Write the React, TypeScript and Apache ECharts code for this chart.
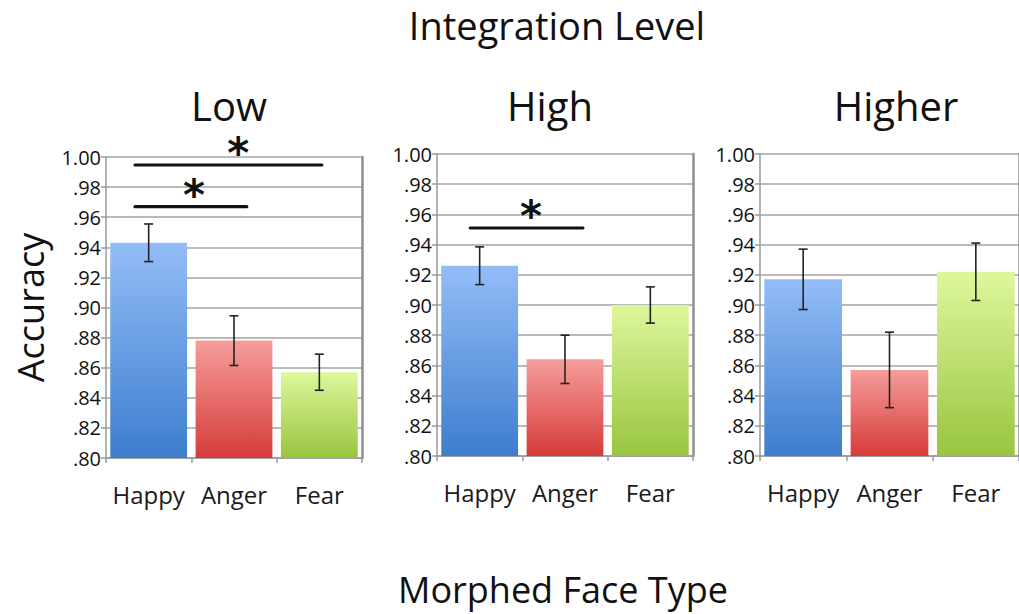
import React, { useEffect, useRef } from "react";
import * as echarts from "echarts";

// ---- Data ----
const categories = ["Happy", "Anger", "Fear"];
const panelTitles = ["Low", "High", "Higher"];
const yTicksMin = 0.8;
const yTicksMax = 1.0;
const yTickStep = 0.02;

const lowMeans = [0.943, 0.878, 0.857];
const lowErrors = [0.0125, 0.0165, 0.012];
const highMeans = [0.926, 0.864, 0.9];
const highErrors = [0.0125, 0.016, 0.012];
const higherMeans = [0.917, 0.857, 0.922];
const higherErrors = [0.02, 0.025, 0.019];

// significance bars: [start (category units), end, y value, star position]
const lowSig = [
  [-0.16, 2.03, 0.9947, 1.05],
  [-0.16, 1.15, 0.967, 0.53],
];
const highSig = [[-0.11, 1.21, 0.951, 0.6]];
const higherSig: number[][] = [];

const mainTitle = "Integration Level";
const xTitle = "Morphed Face Type";
const yTitle = "Accuracy";

// ---- Styles ----
const FONT = "'Open Sans', sans-serif";
const barGradients = [
  ["#93bdf7", "#3d7dce"],
  ["#f59d9b", "#d53c3a"],
  ["#def79c", "#98c53f"],
];
const gridBoxes = [
  { left: 106, top: 157, width: 256, height: 301 },
  { left: 437, top: 154, width: 256, height: 302 },
  { left: 760, top: 154, width: 259, height: 302 },
];
const titleX = [224, 545, 891];

function grad(i: number) {
  return new echarts.graphic.LinearGradient(0, 0, 0, 1, [
    { offset: 0, color: barGradients[i][0] },
    { offset: 1, color: barGradients[i][1] },
  ]);
}

export default function App() {
  const ref = useRef<HTMLDivElement>(null);
  useEffect(() => {
    if (!ref.current) return;
    const chart = echarts.init(ref.current, undefined, { renderer: "svg" });
    const panels = [
      { means: lowMeans, errs: lowErrors, sig: lowSig },
      { means: highMeans, errs: highErrors, sig: highSig },
      { means: higherMeans, errs: higherErrors, sig: higherSig },
    ];
    const grids = gridBoxes.map((g) => ({ ...g, containLabel: false }));
    const xAxes = panels.map((_, i) => ({
      type: "category",
      gridIndex: i,
      data: categories,
      axisLine: { show: true, lineStyle: { color: "#9a9a9a", width: 1.5 } },
      axisTick: { show: true, length: 5, lineStyle: { color: "#9a9a9a", width: 1.5 } },
      axisLabel: {
        interval: 0,
        hideOverlap: false,
        fontFamily: FONT,
        fontSize: 24,
        color: "#1a1a1a",
        margin: 24,
      },
      splitLine: { show: false },
    }));
    const yAxes: any[] = [];
    panels.forEach((_, i) => {
      yAxes.push({
        type: "value",
        gridIndex: i,
        min: yTicksMin,
        max: yTicksMax,
        interval: yTickStep,
        axisLine: { show: true, lineStyle: { color: "#9a9a9a", width: 1.5 } },
        axisTick: { show: true, length: 5, lineStyle: { color: "#9a9a9a", width: 1.5 } },
        axisLabel: {
          fontFamily: FONT,
          fontSize: 20,
          color: "#111",
          margin: 5,
          formatter: (v: number) => {
            const s = v.toFixed(2);
            return v >= 1 ? s : s.slice(1);
          },
        },
        splitLine: { show: true, lineStyle: { color: "#a3a3a3", width: 1.5 } },
        ...(i === 0
          ? {
              name: yTitle,
              nameLocation: "middle",
              nameGap: 58,
              nameRotate: 90,
              nameTextStyle: { fontFamily: FONT, fontSize: 36, color: "#111" },
            }
          : {}),
      });
      yAxes.push({
        type: "value",
        gridIndex: i,
        position: "right",
        min: yTicksMin,
        max: yTicksMax,
        interval: yTickStep,
        axisLine: { show: true, lineStyle: { color: "#8f8f8f", width: 2.5 } },
        axisTick: { show: false },
        axisLabel: { show: false },
        splitLine: { show: false },
      });
    });

    const series: any[] = [];
    panels.forEach((p, i) => {
      series.push({
        type: "bar",
        xAxisIndex: i,
        yAxisIndex: i * 2,
        barCategoryGap: "10%",
        data: p.means.map((v, k) => ({ value: v, itemStyle: { color: grad(k) } })),
      });
      series.push({
        type: "custom",
        xAxisIndex: i,
        yAxisIndex: i * 2,
        z: 5,
        data: p.means.map((v, k) => [k, v - p.errs[k], v + p.errs[k]]),
        renderItem: (params: any, api: any) => {
          const x = api.value(0);
          const lo = api.coord([x, api.value(1)]);
          const hi = api.coord([x, api.value(2)]);
          const cap = 4.5;
          const st = { stroke: "#222", lineWidth: 1.6 };
          return {
            type: "group",
            children: [
              { type: "line", shape: { x1: lo[0], y1: lo[1], x2: hi[0], y2: hi[1] }, style: st },
              { type: "line", shape: { x1: lo[0] - cap, y1: lo[1], x2: lo[0] + cap, y2: lo[1] }, style: st },
              { type: "line", shape: { x1: hi[0] - cap, y1: hi[1], x2: hi[0] + cap, y2: hi[1] }, style: st },
            ],
          };
        },
      });
      if (p.sig.length) {
        series.push({
          type: "custom",
          xAxisIndex: i,
          yAxisIndex: i * 2,
          z: 6,
          clip: false,
          data: p.sig,
          renderItem: (params: any, api: any) => {
            const y = api.value(2);
            const base = api.coord([0, y]);
            const bw = api.size([1, 0])[0];
            const x1 = base[0] + api.value(0) * bw;
            const x2 = base[0] + api.value(1) * bw;
            const xs = base[0] + api.value(3) * bw;
            return {
              type: "group",
              children: [
                {
                  type: "line",
                  shape: { x1, y1: base[1], x2, y2: base[1] },
                  style: { stroke: "#111", lineWidth: 3.2, lineCap: "round" },
                },
                {
                  type: "text",
                  x: xs,
                  y: base[1] - 11,
                  style: {
                    text: "*",
                    align: "center",
                    verticalAlign: "middle",
                    font: "bold 42px 'DejaVu Sans', sans-serif",
                    fill: "#111",
                  },
                },
              ],
            };
          },
        });
      }
    });

    const titles: any[] = [
      {
        text: mainTitle,
        left: 552,
        top: 1,
        textAlign: "center",
        textStyle: { fontFamily: FONT, fontSize: 38, fontWeight: "normal", color: "#111" },
      },
      {
        text: xTitle,
        left: 558,
        top: 566,
        textAlign: "center",
        textStyle: { fontFamily: FONT, fontSize: 36, fontWeight: "normal", color: "#111" },
      },
    ];
    panelTitles.forEach((t, i) => {
      titles.push({
        text: t,
        left: titleX[i],
        top: 80,
        textAlign: "center",
        textStyle: { fontFamily: FONT, fontSize: 40, fontWeight: "normal", color: "#111" },
      });
    });

    chart.setOption({
      animation: false,
      backgroundColor: "#ffffff",
      title: titles,
      grid: grids,
      xAxis: xAxes,
      yAxis: yAxes,
      series,
    });
    return () => chart.dispose();
  }, []);
  return (
    <div
      ref={ref}
      style={{ position: "fixed", left: 0, top: 0, width: 1019, height: 614 }}
    />
  );
}
